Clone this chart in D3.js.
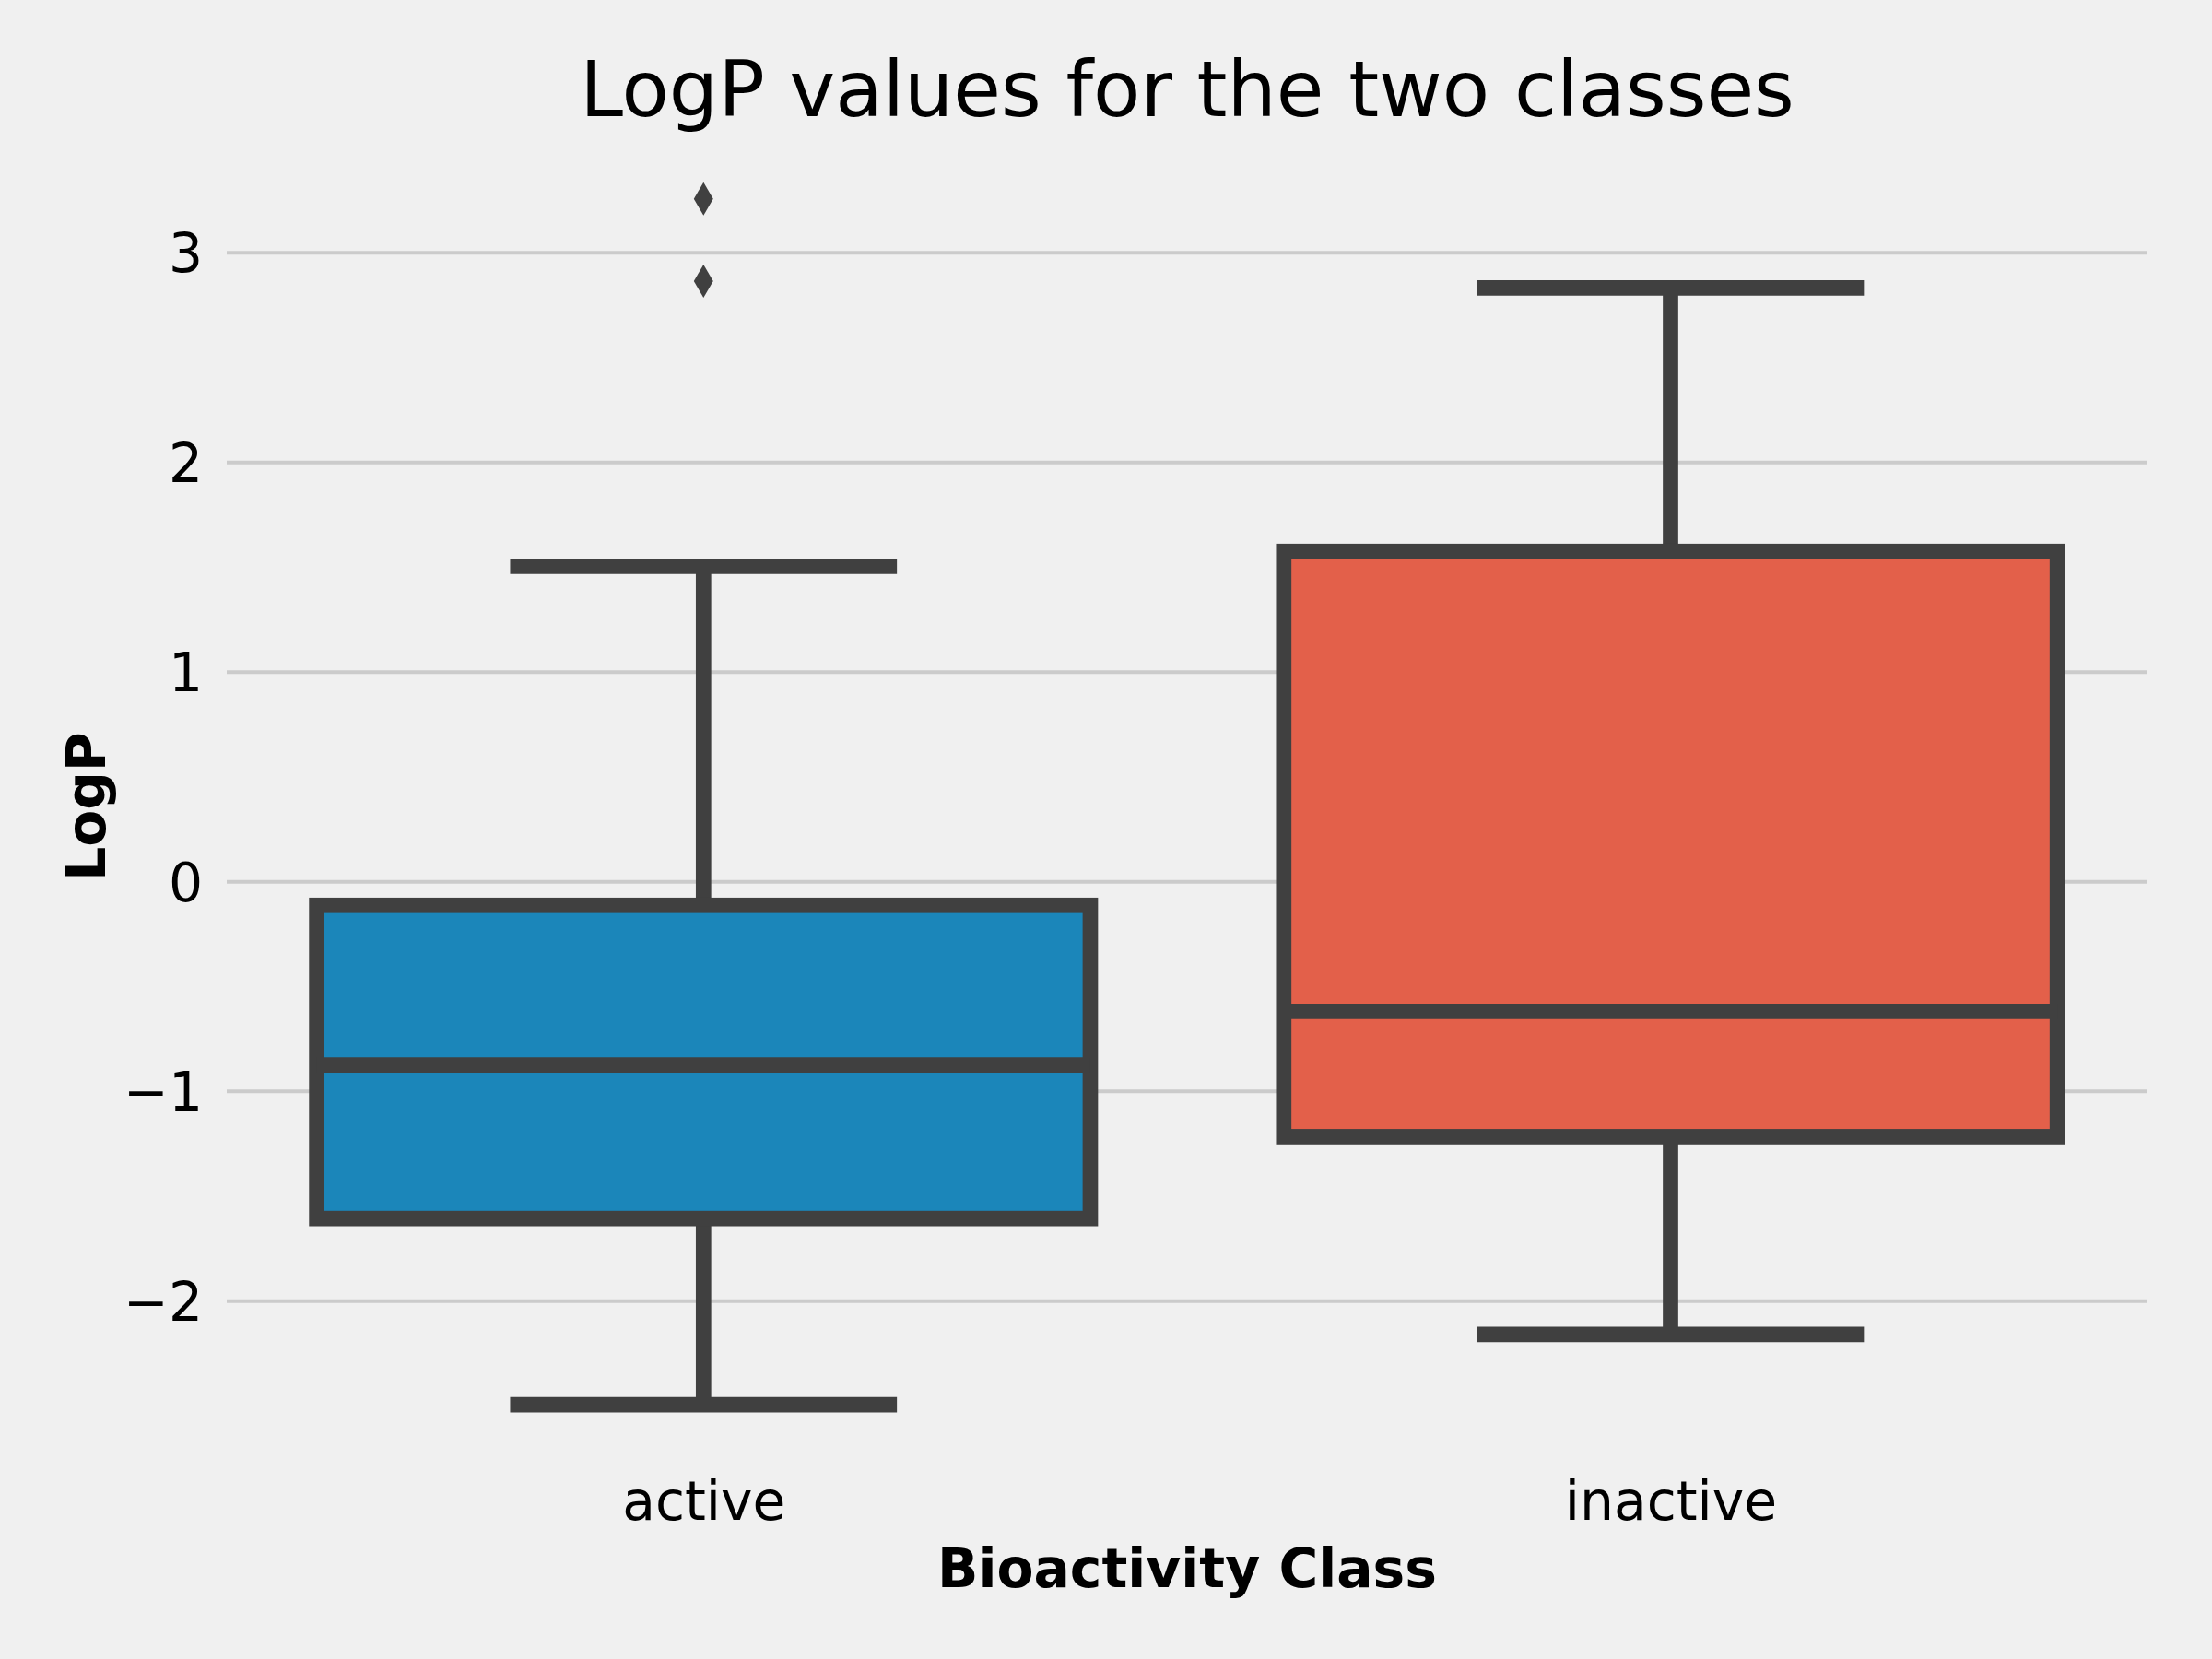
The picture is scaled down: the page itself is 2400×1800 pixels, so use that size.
<html>
<head>
    <meta http-equiv="Content-Type" content="text/html;charset=UTF-8">
    <title>LogP boxplot</title>
    <style type="text/css">
        *{margin: 0;padding: 0;}
        body{background: #f0f0f0;}
        svg{display: block;}
        text{font-family: "DejaVu Sans", sans-serif;}
    </style>
</head>
<body>
    <div class="container"></div>
    <script type="text/javascript" src="https://cdn.jsdelivr.net/npm/d3@7/dist/d3.min.js"></script>
    <script>
        // data
        var categories = ["active", "inactive"];
        var whiskerLow  = [-2.496, -2.161];
        var q1          = [-1.608, -1.218];
        var median      = [-0.876, -0.620];
        var q3          = [-0.114, 1.574];
        var whiskerHigh = [1.503, 2.831];
        var outlierClass = ["active", "active"];
        var outlierValue = [3.255, 2.863];
        var yTicks = [-2, -1, 0, 1, 2, 3];
        var fills = ["#1b86ba", "#e3604a"];

        var width = 2400;
        var height = 1800;
        var gridLeft = 246, gridRight = 2330;
        var plotTop = 150.3, plotBottom = 1589.7;   // "top" is taken by window.top
        var edge = "#404040";
        var lw = 16.7;

        var svg = d3.select(".container")
            .append("svg")
            .attr("width", width)
            .attr("height", height)
            .style("background", "#f0f0f0");

        var y = d3.scaleLinear()
            .domain([-2.784, 3.543])
            .range([plotBottom, plotTop]);

        var x = d3.scaleBand()
            .domain(categories)
            .range([238.7, 2337.1]);

        var band = x.bandwidth();
        var boxW = band * 0.8;
        var capW = boxW * 0.5;
        function cx(c) { return x(c) + band / 2; }

        // y axis + grid
        var yAxis = d3.axisLeft(y)
            .tickValues(yTicks)
            .tickFormat(d3.format("d"))
            .tickSize(-(gridRight - gridLeft))
            .tickPadding(26);

        var gy = svg.append("g")
            .attr("transform", "translate(" + gridLeft + ",0)")
            .call(yAxis);
        gy.select(".domain").remove();
        gy.selectAll(".tick line")
            .attr("stroke", "#cbcbcb")
            .attr("stroke-width", 4);
        gy.selectAll(".tick text")
            .attr("fill", "#000")
            .style("font-size", "58.3px")
            .attr("dy", "0.36em");

        // x axis labels
        var xAxis = d3.axisBottom(d3.scalePoint().domain(categories).range([cx("active"), cx("inactive")]))
            .tickSize(0)
            .tickPadding(18);
        var gx = svg.append("g")
            .attr("transform", "translate(0," + plotBottom + ")")
            .call(xAxis);
        gx.select(".domain").remove();
        gx.selectAll(".tick text")
            .attr("fill", "#000")
            .style("font-size", "58.3px");

        var rows = categories.map(function (c, i) {
            return {c: c, lo: whiskerLow[i], q1: q1[i], med: median[i], q3: q3[i], hi: whiskerHigh[i], fill: fills[i]};
        });

        var boxes = svg.append("g").selectAll("g")
            .data(rows)
            .enter()
            .append("g");

        // whiskers
        boxes.append("line")
            .attr("x1", function (d) { return cx(d.c); })
            .attr("x2", function (d) { return cx(d.c); })
            .attr("y1", function (d) { return y(d.hi); })
            .attr("y2", function (d) { return y(d.q3); })
            .attr("stroke", edge).attr("stroke-width", lw);
        boxes.append("line")
            .attr("x1", function (d) { return cx(d.c); })
            .attr("x2", function (d) { return cx(d.c); })
            .attr("y1", function (d) { return y(d.q1); })
            .attr("y2", function (d) { return y(d.lo); })
            .attr("stroke", edge).attr("stroke-width", lw);

        // caps
        ["lo", "hi"].forEach(function (k) {
            boxes.append("line")
                .attr("x1", function (d) { return cx(d.c) - capW / 2; })
                .attr("x2", function (d) { return cx(d.c) + capW / 2; })
                .attr("y1", function (d) { return y(d[k]); })
                .attr("y2", function (d) { return y(d[k]); })
                .attr("stroke", edge).attr("stroke-width", lw);
        });

        // boxes
        boxes.append("rect")
            .attr("x", function (d) { return cx(d.c) - boxW / 2; })
            .attr("y", function (d) { return y(d.q3); })
            .attr("width", boxW)
            .attr("height", function (d) { return y(d.q1) - y(d.q3); })
            .attr("fill", function (d) { return d.fill; })
            .attr("stroke", edge)
            .attr("stroke-width", lw)
            .attr("stroke-linejoin", "miter");

        // medians
        boxes.append("line")
            .attr("x1", function (d) { return cx(d.c) - boxW / 2; })
            .attr("x2", function (d) { return cx(d.c) + boxW / 2; })
            .attr("y1", function (d) { return y(d.med); })
            .attr("y2", function (d) { return y(d.med); })
            .attr("stroke", edge).attr("stroke-width", lw);

        // outliers (thin diamonds)
        svg.append("g").selectAll("path")
            .data(outlierValue)
            .enter()
            .append("path")
            .attr("d", "M0,-18 L10.5,0 L0,18 L-10.5,0 Z")
            .attr("transform", function (d, i) {
                return "translate(" + cx(outlierClass[i]) + "," + y(d) + ")";
            })
            .attr("fill", edge);

        // titles
        svg.append("text")
            .attr("x", (gridLeft + gridRight) / 2)
            .attr("y", 126)
            .attr("text-anchor", "middle")
            .style("font-size", "84px")
            .text("LogP values for the two classes");

        svg.append("text")
            .attr("x", (gridLeft + gridRight) / 2)
            .attr("y", 1722)
            .attr("text-anchor", "middle")
            .style("font-size", "58.3px")
            .style("font-weight", "bold")
            .text("Bioactivity Class");

        svg.append("text")
            .attr("transform", "translate(114," + 875 + ") rotate(-90)")
            .attr("text-anchor", "middle")
            .style("font-size", "58.3px")
            .style("font-weight", "bold")
            .text("LogP");
    </script>
</body>
</html>
